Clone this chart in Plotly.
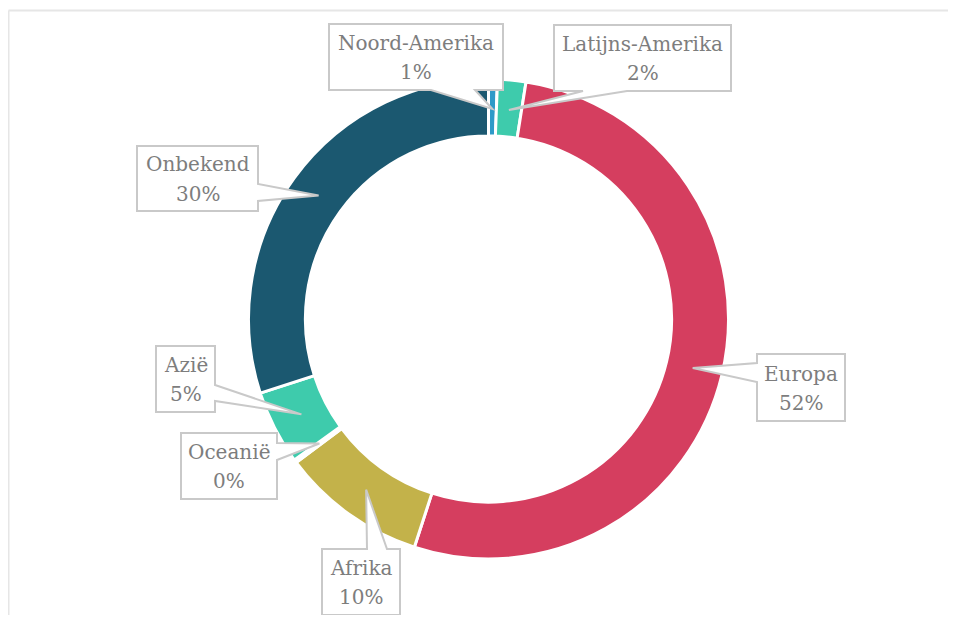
import math
import plotly.graph_objects as go

# ---- data ----
regions = ["Noord-Amerika", "Latijns-Amerika", "Europa", "Afrika", "Oceanië", "Azië", "Onbekend"]
shares = [0.6, 1.9, 52.5, 9.8, 0.2, 5.0, 30.0]
colors = ["#2E9AC8", "#3ECBAC", "#D53E5F", "#C3B24A", "#3ECBAC", "#3ECBAC", "#1B5870"]

# ---- layout geometry (screen pixels) ----
OFF = 8                      # default page margin around the figure
W, H = 956 - 2 * OFF, 623 - 2 * OFF
CX, CY, R = 488.5, 319, 240
HOLE = 0.763
TIP_R = 210

# callout boxes: x0, y0, x1, y1, side of tail, tail base start, tail base end
boxes = {
    "Noord-Amerika": (329, 24, 503, 90, "bottom", 431, 475),
    "Latijns-Amerika": (554, 25, 731, 91, "bottom", 583, 627),
    "Europa": (757, 354, 845, 421, "left", 363, 382),
    "Afrika": (322, 549, 400, 615, "top", 367, 387),
    "Oceanië": (181, 433, 277, 499, "right", 443, 460),
    "Azië": (156, 346, 215, 412, "right", 385, 401),
    "Onbekend": (137, 146, 258, 211, "right", 184, 201),
}


def px(x, y):
    return (x - OFF) / W, 1 - (y - OFF) / H


def fmt(x, y):
    fx, fy = px(x, y)
    return f"{fx:.5f},{fy:.5f}"


total = sum(shares)
tips = {}
cum = 0.0
for name, v in zip(regions, shares):
    theta = 2 * math.pi * (cum + v / 2) / total
    tips[name] = (CX + TIP_R * math.sin(theta), CY - TIP_R * math.cos(theta))
    cum += v

dx0, dy1 = px(CX - R, CY - R)
dx1, dy0 = px(CX + R, CY + R)

fig = go.Figure(
    go.Pie(
        labels=regions,
        values=shares,
        sort=False,
        direction="clockwise",
        rotation=0,
        hole=HOLE,
        textinfo="none",
        marker=dict(colors=colors, line=dict(color="white", width=3)),
        domain=dict(x=[dx0, dx1], y=[dy0, dy1]),
        showlegend=False,
    )
)

fx0, fy1 = px(8.5, 10.5)
frame = dict(color="#e6e6e6", width=2)
shapes = [
    dict(type="line", xref="paper", yref="paper", x0=fx0, x1=1.0, y0=fy1, y1=fy1,
         line=frame, layer="below"),
    dict(type="line", xref="paper", yref="paper", x0=fx0, x1=fx0, y0=0.0, y1=fy1,
         line=frame, layer="below"),
]
annotations = []
font = dict(family="DejaVu Serif", size=20, color="#7d7d7d")
for name, v in zip(regions, shares):
    x0, y0, x1, y1, side, b1, b2 = boxes[name]
    tx, ty = tips[name]
    if side == "bottom":
        pts = [(x0, y0), (x1, y0), (x1, y1), (b2, y1), (tx, ty), (b1, y1), (x0, y1)]
    elif side == "top":
        pts = [(x0, y0), (b1, y0), (tx, ty), (b2, y0), (x1, y0), (x1, y1), (x0, y1)]
    elif side == "right":
        pts = [(x0, y0), (x1, y0), (x1, b1), (tx, ty), (x1, b2), (x1, y1), (x0, y1)]
    else:  # left
        pts = [(x0, y0), (x1, y0), (x1, y1), (x0, y1), (x0, b2), (tx, ty), (x0, b1)]
    path = "M " + " L ".join(fmt(x, y) for x, y in pts) + " Z"
    shapes.append(dict(type="path", xref="paper", yref="paper", path=path,
                       fillcolor="white", line=dict(color="#c9c9c9", width=2), layer="above"))
    mx = (x0 + x1) / 2
    my = (y0 + y1) / 2
    for txt, yy in ((name, my - 14), (f"{v:.0f}%", my + 15)):
        ax, ay = px(mx, yy)
        annotations.append(dict(
            x=ax, y=ay, xref="paper", yref="paper", showarrow=False,
            text=txt, xanchor="center", yanchor="middle", font=font,
        ))

fig.update_layout(
    width=W, height=H,
    margin=dict(l=0, r=0, t=0, b=0),
    paper_bgcolor="white", plot_bgcolor="white",
    shapes=shapes, annotations=annotations,
)

fig.write_html("out.html")
